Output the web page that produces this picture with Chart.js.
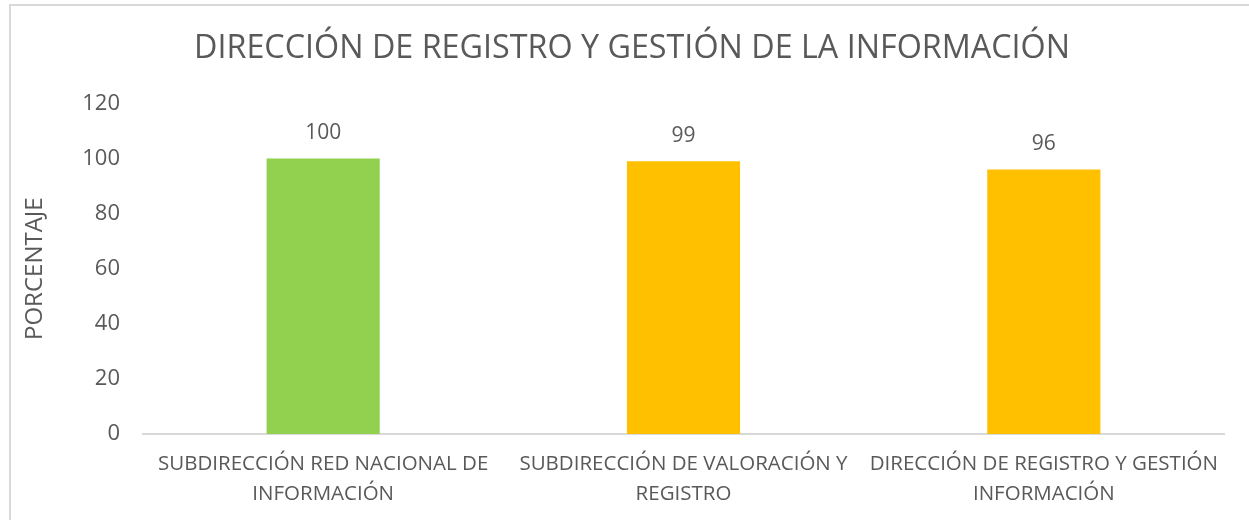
<!DOCTYPE html>
<html>
<head>
<meta charset="utf-8">
<script src="https://cdn.jsdelivr.net/npm/chart.js@4"></script>
<style>
  body { margin: 0; background: #fff; }
  #wrap { position: relative; width: 1249px; height: 520px; }
  #frame {
    position: absolute; left: 9px; top: 4px; right: -10px; bottom: -10px;
    border-left: 2px solid #d9d9d9; border-top: 2px solid #d9d9d9;
    pointer-events: none;
  }
</style>
</head>
<body>
<div id="wrap">
  <canvas id="chart" width="1249" height="520"></canvas>
  <div id="frame"></div>
</div>
<script>
const categories = [
  ["SUBDIRECCIÓN RED NACIONAL DE", "INFORMACIÓN"],
  ["SUBDIRECCIÓN DE VALORACIÓN Y", "REGISTRO"],
  ["DIRECCIÓN DE REGISTRO Y GESTIÓN", "INFORMACIÓN"]
]
const values = [100, 99, 96]
const barColors = ["#92d050", "#ffc000", "#ffc000"]
const yTicks = { min: 0, max: 120, step: 20 }

const textColor = "#595959"
const fontFamily = "'Open Sans', sans-serif"

// etiquetas encima de cada barra
const valueLabels = {
  id: "valueLabels",
  afterDatasetsDraw(chart) {
    const ctx = chart.ctx
    const meta = chart.getDatasetMeta(0)
    ctx.save()
    ctx.fillStyle = textColor
    ctx.font = "21px " + fontFamily
    ctx.textAlign = "center"
    ctx.textBaseline = "middle"
    meta.data.forEach((bar, i) => {
      ctx.fillText(values[i], bar.x, bar.y - 25)
    })
    ctx.restore()
  }
}

new Chart(document.getElementById("chart").getContext("2d"), {
  type: "bar",
  data: {
    labels: categories,
    datasets: [{
      data: values,
      backgroundColor: barColors,
      barPercentage: 0.314,
      categoryPercentage: 1
    }]
  },
  options: {
    responsive: false,
    animation: false,
    // padding izquierdo para centrar el titulo como en el original
    layout: { padding: { left: 40, right: 25, top: 0, bottom: 0 } },
    plugins: {
      legend: { display: false },
      tooltip: { enabled: false },
      title: {
        display: true,
        text: "DIRECCIÓN DE REGISTRO Y GESTIÓN DE LA INFORMACIÓN",
        color: textColor,
        font: { family: fontFamily, size: 32.3, weight: "normal", lineHeight: 1.2 },
        padding: { top: 29, bottom: 35.6 }
      }
    },
    scales: {
      x: {
        grid: { display: false, drawTicks: false },
        border: { display: true, color: "#d9d9d9", width: 2 },
        ticks: {
          color: textColor,
          font: { family: fontFamily, size: 20.5, lineHeight: 1.42 },
          padding: 16,
          maxRotation: 0,
          autoSkip: false
        },
        afterFit(scale) { scale.height = 86 }
      },
      y: {
        min: yTicks.min,
        max: yTicks.max,
        grid: { display: false, drawTicks: false },
        border: { display: false },
        ticks: {
          stepSize: yTicks.step,
          color: textColor,
          font: { family: fontFamily, size: 22 },
          padding: 23
        },
        title: {
          display: true,
          text: "PORCENTAJE",
          color: textColor,
          font: { family: fontFamily, size: 24, lineHeight: 1.2 },
          padding: { top: -19.4, bottom: 0 }
        },
        afterFit(scale) { scale.width = 103 }
      }
    }
  },
  plugins: [valueLabels]
})
</script>
</body>
</html>
